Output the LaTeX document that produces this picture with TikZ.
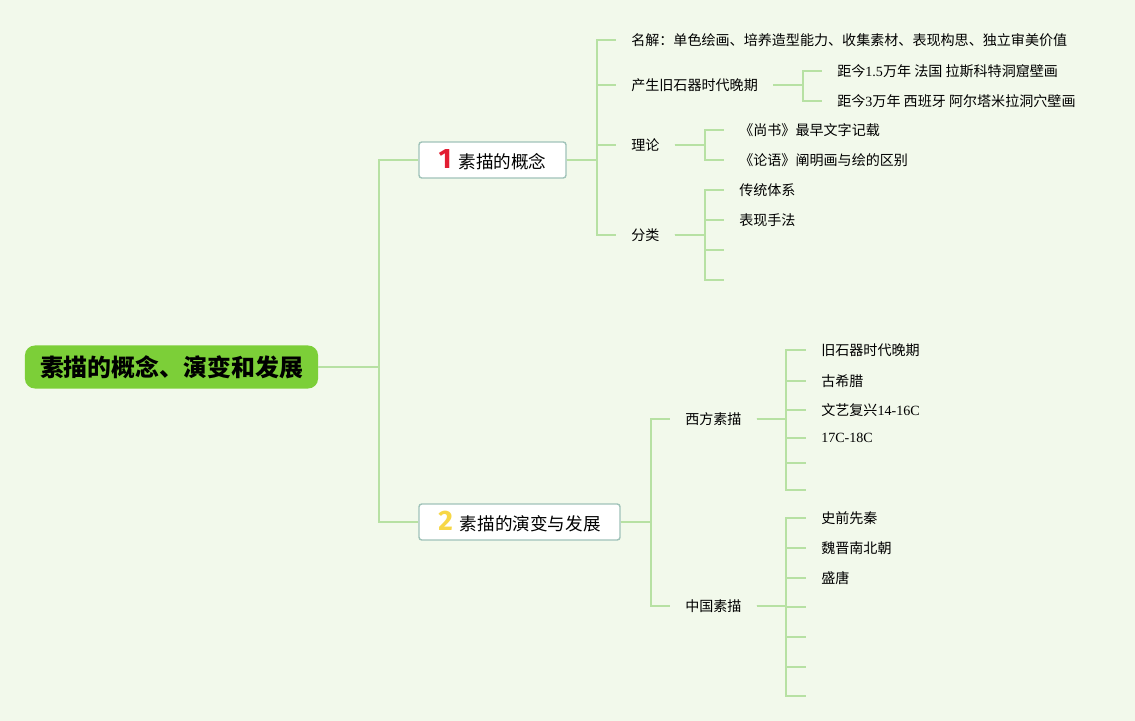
\documentclass[tikz,border=0pt]{standalone}
\usepackage{fontspec}
\setmainfont{Liberation Serif}
\newfontfamily\cjk{Noto Sans CJK SC}
\newfontfamily\numfont{Fira Sans}
\usepackage{tikz}

\definecolor{bgcol}{RGB}{242,249,235}
\definecolor{linkcol}{RGB}{183,225,163}
\definecolor{rootcol}{RGB}{124,207,56}
\definecolor{edgecol}{RGB}{160,195,185}
\definecolor{numred}{RGB}{226,30,50}
\definecolor{numyellow}{RGB}{247,215,70}

\begin{document}
\begin{tikzpicture}[
    x=0.025cm, y=-0.025cm,
    link/.style={draw=linkcol, line width=1.4pt},
    root/.style={fill=rootcol, rounded corners=7pt, inner sep=0pt,
                 minimum width=7.325cm, minimum height=1.075cm,
                 font=\fontsize{17}{20}\selectfont\cjk\bfseries},
    topic/.style={draw=edgecol, line width=1pt, fill=white, rounded corners=2pt,
                  inner sep=0pt, minimum height=0.9cm,
                  font=\fontsize{12.5}{15}\selectfont\cjk},
    leaf/.style={anchor=west, inner xsep=0.375cm, inner ysep=2pt,
                 font=\fontsize{10}{12}\selectfont\cjk},
]
% Background
\fill[bgcol] (0,0) rectangle (1135,721);
\useasboundingbox (0,0) rectangle (1135,721);

% Central topic
\node[root] (root) at (171.5,367) {素描的概念、演变和发展};

% Main topics
\node[topic, minimum width=3.675cm] (conc) at (492.5,160)
    {{\numfont\bfseries\fontsize{20}{20}\selectfont\color{numred}1}\hspace{5pt}素描的概念};
\node[topic, minimum width=5.025cm] (evol) at (519.5,522)
    {{\numfont\bfseries\fontsize{20}{20}\selectfont\color{numyellow}2}\hspace{5pt}素描的演变与发展};

% Concept branch
\node[leaf] (defn) at (616,40)  {名解：单色绘画、培养造型能力、收集素材、表现构思、独立审美价值};
\node[leaf] (orig) at (616,85)  {产生旧石器时代晚期};
\node[leaf] (theo) at (616,145) {理论};
\node[leaf] (clas) at (616,235) {分类};

\node[leaf] (orig1) at (822,71)  {距今{\rmfamily 1.5}万年 法国 拉斯科特洞窟壁画};
\node[leaf] (orig2) at (822,101) {距今{\rmfamily 3}万年 西班牙 阿尔塔米拉洞穴壁画};

\node[leaf] (theo1) at (724,130) {《尚书》最早文字记载};
\node[leaf] (theo2) at (724,160) {《论语》阐明画与绘的区别};

\node[leaf] (clas1) at (724,190) {传统体系};
\node[leaf] (clas2) at (724,220) {表现手法};
\node[leaf] (clas3) at (724,250) {};
\node[leaf] (clas4) at (724,280) {};

% Evolution branch
\node[leaf] (wst) at (670,419) {西方素描};
\node[leaf] (chn) at (670,606) {中国素描};

\node[leaf] (wst1) at (806,350) {旧石器时代晚期};
\node[leaf] (wst2) at (806,381) {古希腊};
\node[leaf] (wst3) at (806,410) {文艺复兴{\rmfamily 14-16C}};
\node[leaf] (wst4) at (806,438) {\rmfamily 17C-18C};
\node[leaf] (wst5) at (806,463) {};
\node[leaf] (wst6) at (806,490) {};

\node[leaf] (chn1) at (806,518) {史前先秦};
\node[leaf] (chn2) at (806,548) {魏晋南北朝};
\node[leaf] (chn3) at (806,578) {盛唐};
\node[leaf] (chn4) at (806,607) {};
\node[leaf] (chn5) at (806,637) {};
\node[leaf] (chn6) at (806,667) {};
\node[leaf] (chn7) at (806,696) {};

% Connectors
\foreach \c in {conc,evol}
    \draw[link] (root.east) -- ++(61,0) |- (\c.west);
\foreach \c in {defn,orig,theo,clas}
    \draw[link] (conc.east) -- ++(30,0) |- (\c.west);
\foreach \c in {orig1,orig2}
    \draw[link] (orig.east) -- ++(30,0) |- (\c.west);
\foreach \c in {theo1,theo2}
    \draw[link] (theo.east) -- ++(30,0) |- (\c.west);
\foreach \c in {clas1,clas2,clas3,clas4}
    \draw[link] (clas.east) -- ++(30,0) |- (\c.west);
\foreach \c in {wst,chn}
    \draw[link] (evol.east) -- ++(30,0) |- (\c.west);
\foreach \c in {wst1,wst2,wst3,wst4,wst5,wst6}
    \draw[link] (wst.east) -- ++(29,0) |- (\c.west);
\foreach \c in {chn1,chn2,chn3,chn4,chn5,chn6,chn7}
    \draw[link] (chn.east) -- ++(29,0) |- (\c.west);
\end{tikzpicture}
\end{document}
